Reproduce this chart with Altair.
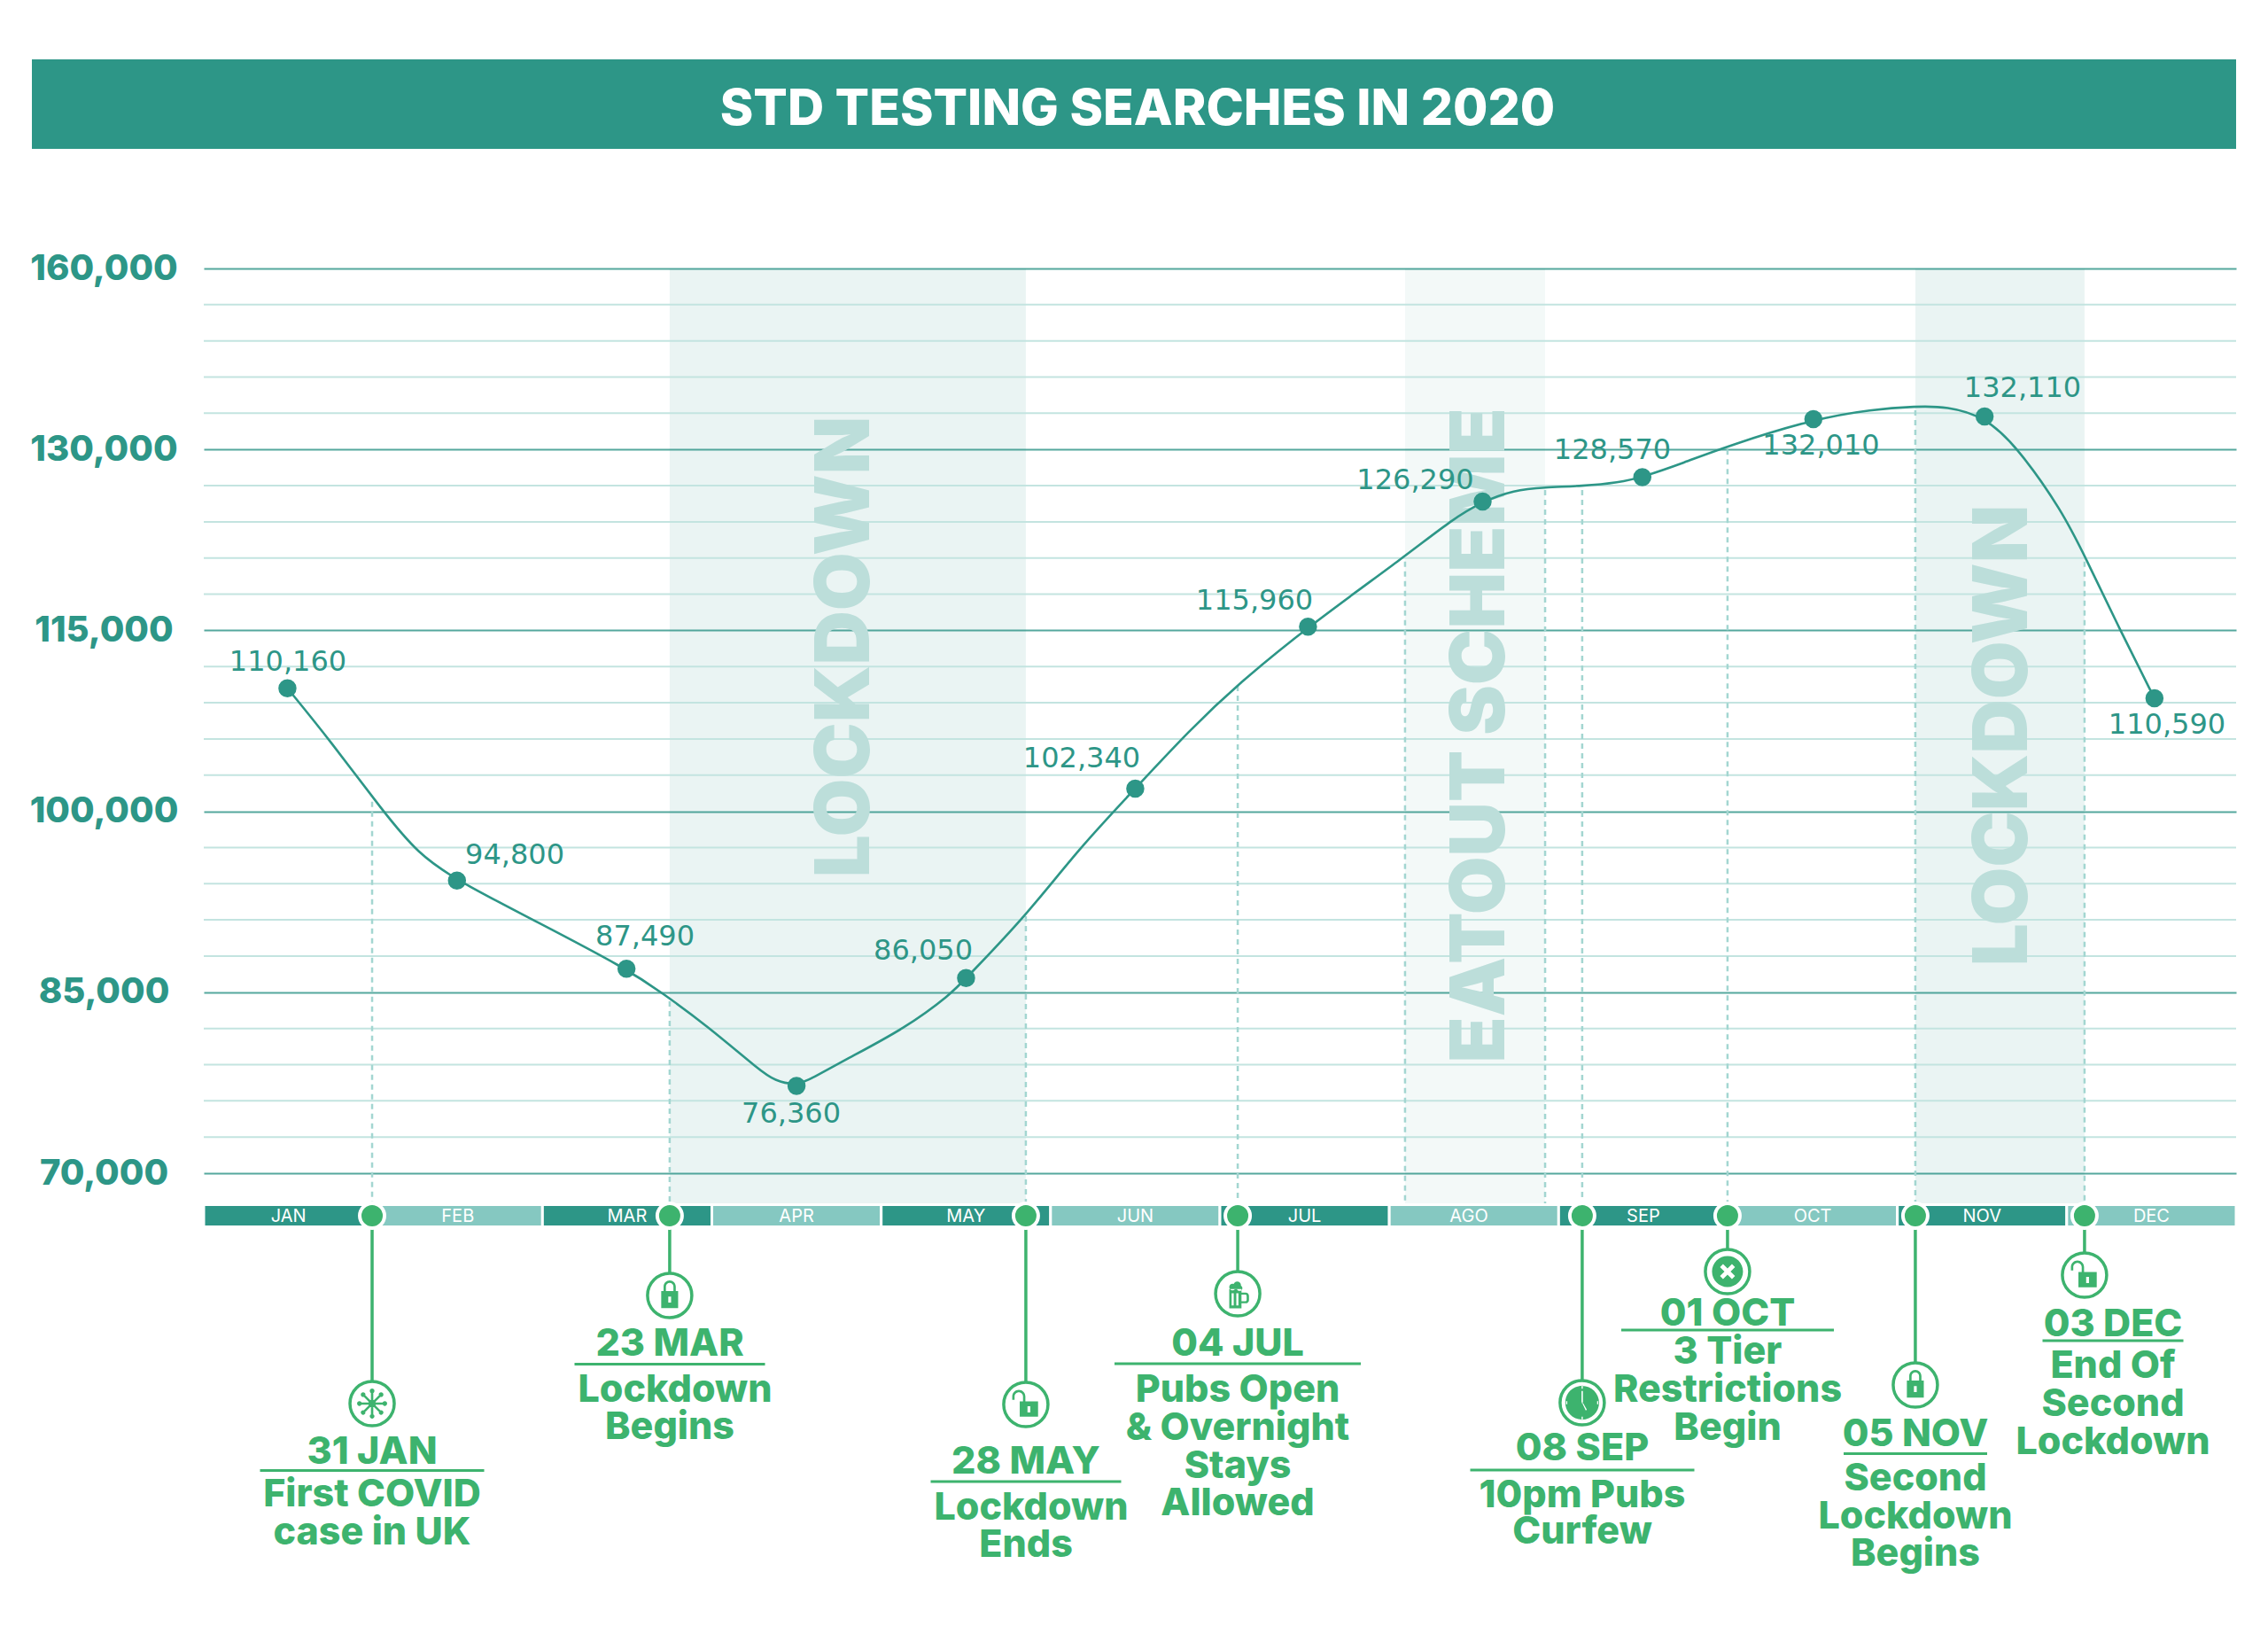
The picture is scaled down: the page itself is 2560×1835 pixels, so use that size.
import math
import altair as alt
import pandas as pd

# ---------- data ----------
months = ["JAN","FEB","MAR","APR","MAY","JUN","JUL","AGO","SEP","OCT","NOV","DEC"]
point_labels = ["110,160","94,800","87,490","76,360","86,050","102,340","115,960","126,290","128,570","132,010","132,110","110,590"]
# marker positions as drawn in the picture (month units, height on the axis)
point_month = [0.494,1.495,2.496,3.500,4.501,5.500,6.520,7.551,8.494,9.504,10.515,11.518]
searches = [110203,94263,86954,77236,86175,101888,115309,125673,127700,132519,132732,109366]
# the drawn curve
curve_month = [0.494,0.746,1.057,1.267,1.495,1.968,2.496,2.709,2.969,3.289,3.368,3.500,3.600,3.780,4.141,4.411,4.501,4.852,5.172,5.500,5.822,6.107,6.520,7.095,7.375,7.551,7.735,7.915,8.139,8.356,8.494,8.736,8.997,9.504,9.851,10.110,10.291,10.515,10.711,10.971,11.112,11.312,11.518]
curve_value = [110203,105869,100022,96452,94263,90832,86954,84926,82260,78462,77706,77236,77933,79344,82010,84824,86175,91288,96995,101888,106750,110548,115309,121148,124241,125673,126628,126856,126966,127245,127700,128876,130286,132519,133320,133570,133570,132732,130147,124946,121009,115103,109366]
major_ticks = [70000,85000,100000,115000,130000,145000]
event_dates = ["31 JAN","23 MAR","28 MAY","04 JUL","08 SEP","01 OCT","05 NOV","03 DEC"]
event_text = [["First COVID","case in UK"],["Lockdown","Begins"],["Lockdown","Ends"],
              ["Pubs Open","& Overnight","Stays","Allowed"],["10pm Pubs","Curfew"],
              ["3 Tier","Restrictions","Begin"],["Second","Lockdown","Begins"],["End Of","Second","Lockdown"]]
event_pos = [0.994,2.751,4.854,6.105,8.139,8.997,10.106,11.105]
event_curve = [100800,84250,91300,110400,126630,130000,133250,120700]
shade_pos = [(2.751,4.854,"LOCKDOWN"),(7.093,7.920,"EATOUT SCHEME"),(10.106,11.105,"LOCKDOWN")]
eatout_curve = (120700,126630)

# ---------- layout helpers: reference pixels to data space ----------
TEAL="#2d9687"; LIGHT="#85c8c1"; GREEN="#3db36e"; MINOR="#c3e4e0"; MAJOR="#55a89d"; DASH="#a3d6d1"; GHOST="#bcdeda"
FONT="Inter"; NUM="DejaVu Sans"
def mx(px): return (px-230)/(2294/12)
def vy(py): return 70000-(py-1324)*(15000/204.2)

BAND_T,BAND_B=1361,1383
icon_y=[1584,1462,1585,1460,1583,1435,1563,1439]
date_y=[1637,1515,1648,1515,1633,1481,1617,1493.5]
rule_y=[1659.5,1539.5,1672,1539,1659,1501,1640.5,1513]
rule_w=[253,215,215,278,253,240,162,159]
line_y=[[1685,1728],[1567,1609],[1700,1742],[1567,1610,1653,1695],[1686,1727],[1524,1567,1610],[1667,1710,1752],[1540,1583,1626]]
line_dx={(1,0):6,(2,0):6}
text_px=[420,756,1158,1397,1786,1950,2162,2385]
label_xy=[(325,746.5),(581,965),(728,1056.5),(893,1257),(1042,1073),(1221,856),(1416,678),(1597.5,542),(1820,508),(2055.5,503),(2283,438),(2446,817.5)]

yaxis=alt.Axis(values=major_ticks,grid=True,gridColor=MAJOR,gridWidth=2,title=None,
        domain=False,ticks=False,labelPadding=113,labelAlign="center",labelBaseline="middle",labelFont=FONT,
        labelFontWeight=800,labelFontSize=40,labelColor=TEAL,labelOverlap=False,labelFlush=False,
        labelExpr="datum.value==145000?'160,000':format(datum.value,',')")
xs=alt.Scale(domain=[0,12],nice=False,zero=False)
ys=alt.Scale(domain=[70000,145000],nice=False,zero=False)
X=lambda f="x":alt.X(f"{f}:Q",scale=xs,axis=None)
Y=lambda f="y":alt.Y(f"{f}:Q",scale=ys,axis=yaxis)
layers=[]

# major grid and y-axis labels
layers.append(alt.Chart(pd.DataFrame({"y":major_ticks})).mark_rule(opacity=0).encode(y=Y()))

# title band
layers.append(alt.Chart(pd.DataFrame({"x":[mx(36)],"x2":[mx(2524)],"y":[vy(67)],"y2":[vy(168)]})).mark_rect(color=TEAL).encode(
    x=X(),x2="x2:Q",y=Y(),y2="y2:Q"))
layers.append(alt.Chart(pd.DataFrame({"x":[mx(1284)],"y":[vy(124)],"t":["STD TESTING SEARCHES IN 2020"]})).mark_text(
    font=FONT,fontWeight=800,fontSize=57,color="white",baseline="middle",align="center").encode(x=X(),y=Y(),text="t:N"))

# shaded periods
sh=pd.DataFrame({"x":[s[0] for s in shade_pos],"x2":[s[1] for s in shade_pos],"y":[145000]*3,"y2":[vy(BAND_T)]*3,"o":[0.1,0.055,0.1]})
layers.append(alt.Chart(sh).mark_rect(color=TEAL).encode(x=X(),x2="x2:Q",y=Y(),y2="y2:Q",opacity=alt.Opacity("o:Q",scale=None)))

# minor grid
minor=[v for v in range(70000,145000,3000) if v not in major_ticks]
layers.append(alt.Chart(pd.DataFrame({"y":minor})).mark_rule(color=MINOR,strokeWidth=2).encode(y=Y()))

# ghost words
gh=pd.DataFrame({"x":[mx(955),mx(1672),mx(2262)],"y":[vy(730),vy(830),vy(830)],"t":[s[2] for s in shade_pos]})
layers.append(alt.Chart(gh).mark_text(font=FONT,fontWeight=900,fontSize=85,color=GHOST,angle=270,align="center",baseline="middle").encode(x=X(),y=Y(),text="t:N"))

# dashed drops
dx=event_pos+[shade_pos[1][0],shade_pos[1][1]]
dy=event_curve+list(eatout_curve)
layers.append(alt.Chart(pd.DataFrame({"x":dx,"y":dy,"y2":[vy(BAND_T)]*len(dx)})).mark_rule(color=DASH,strokeWidth=2.5,strokeDash=[6,5]).encode(x=X(),y=Y(),y2="y2:Q"))

# month band
mb=pd.DataFrame({"x":list(range(12)),"x2":list(range(1,13)),"y":[vy(BAND_T-1.5)]*12,"y2":[vy(BAND_B+1.5)]*12,
                 "c":[TEAL if i%2==0 else LIGHT for i in range(12)],"mid":[i+.5-(0.03 if i==7 else 0) for i in range(12)],"t":months})
layers.append(alt.Chart(mb).mark_rect(stroke="white",strokeWidth=3).encode(x=X(),x2="x2:Q",y=Y(),y2="y2:Q",color=alt.Color("c:N",scale=None)))
layers.append(alt.Chart(mb.assign(ym=vy(1373))).mark_text(font=FONT,fontSize=20,color="white",align="center",baseline="middle").encode(x=X("mid"),y=Y("ym"),text="t:N"))

# curve, points, labels
cur=pd.DataFrame({"x":curve_month,"y":curve_value})
layers.append(alt.Chart(cur).mark_line(color=TEAL,strokeWidth=2.6,interpolate="basis").encode(x=X(),y=Y()))
pts=pd.DataFrame({"x":point_month,"y":searches})
layers.append(alt.Chart(pts).mark_point(filled=True,color=TEAL,size=420,opacity=1).encode(x=X(),y=Y()))
lb=pd.DataFrame({"x":[mx(a) for a,_ in label_xy],"y":[vy(b) for _,b in label_xy],"t":point_labels})
layers.append(alt.Chart(lb).mark_text(font=NUM,fontSize=32,color=TEAL,align="center",baseline="middle").encode(x=X(),y=Y(),text="t:N"))

# events: stems, knobs, rings
st=pd.DataFrame({"x":event_pos,"y":[vy(BAND_T)]*8,"y2":[vy(v) for v in icon_y]})
layers.append(alt.Chart(st).mark_rule(color=GREEN,strokeWidth=3.5).encode(x=X(),y=Y(),y2="y2:Q"))
kn=pd.DataFrame({"x":event_pos,"y":[vy(1372)]*8})
layers.append(alt.Chart(kn).mark_point(filled=True,fill=GREEN,stroke="white",strokeWidth=4,size=784,opacity=1).encode(x=X(),y=Y()))
rg=pd.DataFrame({"x":event_pos,"y":[vy(v) for v in icon_y]})
layers.append(alt.Chart(rg).mark_point(filled=True,fill="white",stroke=GREEN,strokeWidth=3.5,size=2500,opacity=1).encode(x=X(),y=Y()))

# icons as path shapes in unit coordinates
def circ(cx,cy,r): return f"M{cx-r:.3f},{cy:.3f}A{r},{r} 0 1 0 {cx+r:.3f},{cy:.3f}A{r},{r} 0 1 0 {cx-r:.3f},{cy:.3f}Z"
def box(x0,y0,x1,y1): return f"M{x0},{y0}H{x1}V{y1}H{x0}Z"
def rev(x0,y0,x1,y1): return f"M{x0},{y0}V{y1}H{x1}V{y0}Z"
def poly(p): return "M"+"L".join(f"{a:.3f},{b:.3f}" for a,b in p)+"Z"
lock=box(-.36,-.19,.36,.54)+rev(-.06,.05,.06,.3)+"M-.26,-.19V-.38A.26,.26 0 0 1 .26,-.38V-.19H.16V-.38A.16,.16 0 0 0 -.16,-.38V-.19Z"
unlock=box(-.26,-.13,.52,.52)+rev(.07,.08,.19,.34)+"M-.58,-.2V-.34A.28,.28 0 0 1 -.02,-.34V-.13H-.12V-.34A.18,.18 0 0 0 -.48,-.34V-.2Z"
virus=circ(0,0,.16)
for k in range(8):
    a=k*math.pi/4; c,s=math.cos(a),math.sin(a); w=.05
    virus+=poly([(c*.1-s*w,s*.1+c*w),(c*.5-s*w,s*.5+c*w),(c*.5+s*w,s*.5-c*w),(c*.1+s*w,s*.1-c*w)])
    virus+=circ(c*.54,s*.54,.1)
beer=box(-.36,-.2,.16,.62)+rev(-.26,-.02,-.17,.5)+rev(-.06,-.02,.03,.5)
beer+="M.16,-.05H.34A.14,.14 0 0 1 .48,.09V.27A.14,.14 0 0 1 .34,.41H.16V.32H.32A.06,.06 0 0 0 .38,.26V.1A.06,.06 0 0 0 .32,.04H.16Z"
beer+=circ(-.22,-.28,.14)+circ(-.02,-.36,.16)+circ(.08,-.24,.12)
clock=circ(0,0,.72)+box(-.03,-.5,.03,.02)+poly([(-.02,-.03),(.03,0),(.2,.3),(.15,.33)])
for a,b in [(0,-.66),(0,.66),(-.66,0),(.66,0)]:
    clock+=box(a-.025,b-.07,a+.025,b+.07)
d=.13;e=.32
xmark=circ(0,0,.66)+poly([(-e,-e+d),(-e+d,-e),(0,-d),(e-d,-e),(e,-e+d),(d,0),(e,e-d),(e-d,e),(0,d),(-e+d,e),(-e,e-d),(-d,0)])
icons=[virus,lock,unlock,beer,clock,xmark,lock,unlock]
for ex,iy,p in zip(event_pos,icon_y,icons):
    layers.append(alt.Chart(pd.DataFrame({"x":[ex],"y":[vy(iy)]})).mark_point(shape=p,filled=True,color=GREEN,size=2809,opacity=1,strokeWidth=0).encode(x=X(),y=Y()))

# event texts
rows=[];rules=[]
for i,dt in enumerate(event_dates):
    rows.append((mx(text_px[i]),vy(date_y[i]),dt))
    for j,(t,py) in enumerate(zip(event_text[i],line_y[i])):
        rows.append((mx(text_px[i]+line_dx.get((i,j),0)),vy(py),t))
    rules.append((mx(text_px[i]-rule_w[i]/2),mx(text_px[i]+rule_w[i]/2),vy(rule_y[i])))
layers.append(alt.Chart(pd.DataFrame(rows,columns=["x","y","t"])).mark_text(font=FONT,fontWeight=800,fontSize=43,dy=1.5,color=GREEN,align="center",baseline="middle").encode(x=X(),y=Y(),text="t:N"))
layers.append(alt.Chart(pd.DataFrame(rules,columns=["x","x2","y"])).mark_rule(color=GREEN,strokeWidth=3).encode(x=X(),x2="x2:Q",y=Y()))

chart=alt.layer(*layers).properties(width=2294,height=1021,
    padding={"left":222,"top":295,"right":28,"bottom":495},autosize=alt.AutoSizeParams(type="none")).configure_view(stroke=None)
chart.save("out.html",embed_options={"renderer":"svg","actions":False})
